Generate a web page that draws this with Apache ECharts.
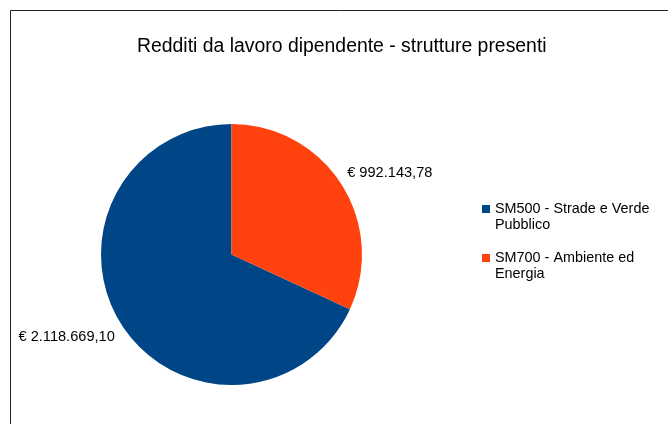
<!DOCTYPE html>
<html>
<head>
<meta charset="utf-8">
<script src="https://cdn.jsdelivr.net/npm/echarts@6/dist/echarts.min.js"></script>
<style>
  html, body { margin: 0; padding: 0; background: #fff; }
  #main { width: 668px; height: 424px; }
</style>
</head>
<body>
<div id="main"></div>
<script>
  // dati
  var categories = ['SM500 - Strade e Verde Pubblico', 'SM700 - Ambiente ed Energia'];
  var legendLines = [['SM500 - Strade e Verde', 'Pubblico'], ['SM700 - Ambiente ed', 'Energia']];
  var values = [2118669.10, 992143.78];
  var valueLabels = ['€ 2.118.669,10', '€ 992.143,78'];
  var colors = ['#004586', '#ff420e'];

  var labelOffsets = [[5, 8], [-6, -7]];

  var chart = echarts.init(document.getElementById('main'));

  var pieData = categories.map(function (name, i) {
    return {
      name: name,
      value: values[i],
      label: { offset: labelOffsets[i] }
    };
  });

  var option = {
    animation: false,
    color: colors,
    title: {
      text: 'Redditi da lavoro dipendente - strutture presenti',
      left: 137,
      top: 37,
      padding: 0,
      textStyle: {
        fontFamily: 'Liberation Sans',
        fontWeight: 'normal',
        fontSize: 19.4,
        color: '#000'
      }
    },
    legend: {
      orient: 'vertical',
      left: 482,
      top: 185,
      padding: 0,
      itemGap: 1,
      itemWidth: 8,
      itemHeight: 8,
      icon: 'rect',
      data: categories,
      formatter: function (name) {
        var lines = legendLines[categories.indexOf(name)];
        // riga vuota sopra per allineare il quadratino alla prima riga
        return ' \n' + lines.join('\n');
      },
      textStyle: {
        fontFamily: 'Liberation Sans',
        fontSize: 14.4,
        lineHeight: 16,
        color: '#000'
      }
    },
    graphic: [{
      type: 'polyline',
      shape: { points: [[10.5, 424], [10.5, 10.5], [668, 10.5]] },
      style: { stroke: '#222', lineWidth: 1, fill: null }
    }],
    series: [{
      name: 'Redditi',
      type: 'pie',
      center: [231.5, 254.5],
      radius: 130.5,
      startAngle: 90,
      clockwise: false,
      data: pieData,
      label: {
        show: true,
        position: 'outside',
        fontFamily: 'Liberation Sans',
        fontSize: 14.6,
        color: '#000',
        formatter: function (p) { return valueLabels[p.dataIndex]; }
      },
      labelLine: { show: false, length: 8, length2: 0 },
      emphasis: { disabled: true }
    }]
  };

  chart.setOption(option);
</script>
</body>
</html>
